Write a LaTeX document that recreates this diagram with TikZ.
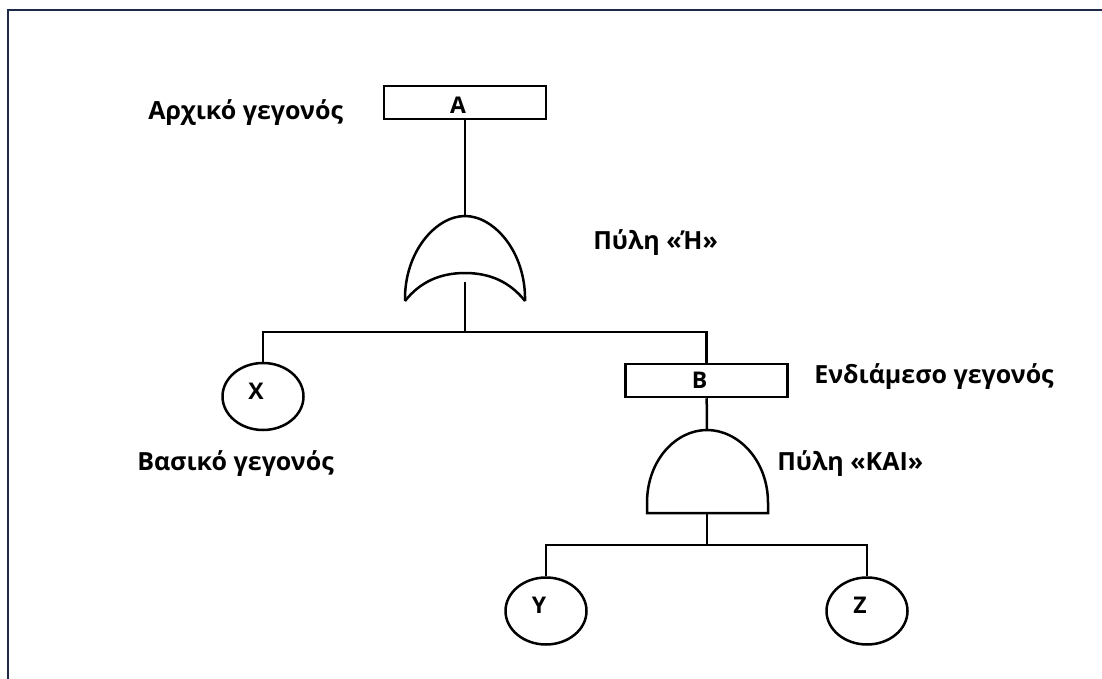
\documentclass[tikz,border=0pt]{standalone}
\usepackage{fontspec}
\setmainfont{Open Sans}
\usepackage{tikz}
\usetikzlibrary{shapes.geometric}

\definecolor{framecol}{RGB}{31,42,74}

\tikzset{
	lbl/.style={font=\fontsize{25}{30}\selectfont\bfseries, anchor=base west, inner sep=0pt},
	letter/.style={font=\fontsize{23}{27}\selectfont\bfseries, inner sep=0pt, xshift=-7pt},
	event/.style={draw, rectangle, line width=2.5pt, minimum width=162pt, minimum height=33pt, inner sep=0pt},
	basic/.style={draw, ellipse, line width=2.5pt, minimum width=81pt, minimum height=67pt, inner sep=0pt},
}

\begin{document}
\begin{tikzpicture}[x=1pt, y=-1pt, line width=2.5pt]
			\useasboundingbox (0,0) rectangle (1102,679);
			\fill[white] (0,0) rectangle (1102,679);
			% frame
			\draw[framecol, line width=2.8pt] (8,679) -- (8,10) -- (1102,10);

			% events
			\node[event, label={[letter, yshift=-3pt]center:A}] (A) at (465,102.5) {};
			\node[event, label={[letter]center:B}] (B) at (706.5,380.5) {};
			\node[basic, label={[letter, yshift=5pt]center:X}] (X) at (263,396.5) {};
			\node[basic, label={[letter, yshift=6pt]center:Y}] (Y) at (546,611) {};
			\node[basic, label={[letter, yshift=6pt]center:Z}] (Z) at (867,611) {};

			% OR gate
			\coordinate (orTop) at (465,216);
			\coordinate (orOut) at (465,282);
			\coordinate (split1) at (465,332);
			\draw (405,301) .. controls (404,252) and (436,216) .. (orTop)
				.. controls (494,216) and (526,252) .. (525,301);
			\draw (405,301) .. controls (420,282) and (440,273) .. (465,273)
				.. controls (490,273) and (510,282) .. (525,301);

			% AND gate
			\coordinate (andTop) at (707,430);
			\coordinate (andOut) at (707,513);
			\coordinate (split2) at (707,545);
			\draw (andOut) -- (647,513) -- (647,503) .. controls (647,460) and (676,430) .. (andTop)
				.. controls (738,430) and (768,460) .. (768,503) -- (768,513) -- cycle;

			% connectors
			\draw (A) -- (orTop);
			\draw (orOut) -- (split1);
			\draw (X.north) |- (split1) -| (B.north);
			\draw (B) -- (andTop);
			\draw (andOut) -- (split2);
			\draw (Y.north) |- (split2) -| (Z.north);

			% labels
			\node[lbl] (lA) at (147,120) {Αρχικό γεγονός};
			\node[lbl] (lOr) at (592,249) {Πύλη «Ή»};
			\node[lbl] (lB) at (813,383) {Ενδιάμεσο γεγονός};
			\node[lbl] (lX) at (136,470) {Βασικό γεγονός};
			\node[lbl] (lAnd) at (776,470) {Πύλη «ΚΑΙ»};
		\end{tikzpicture}
\end{document}
